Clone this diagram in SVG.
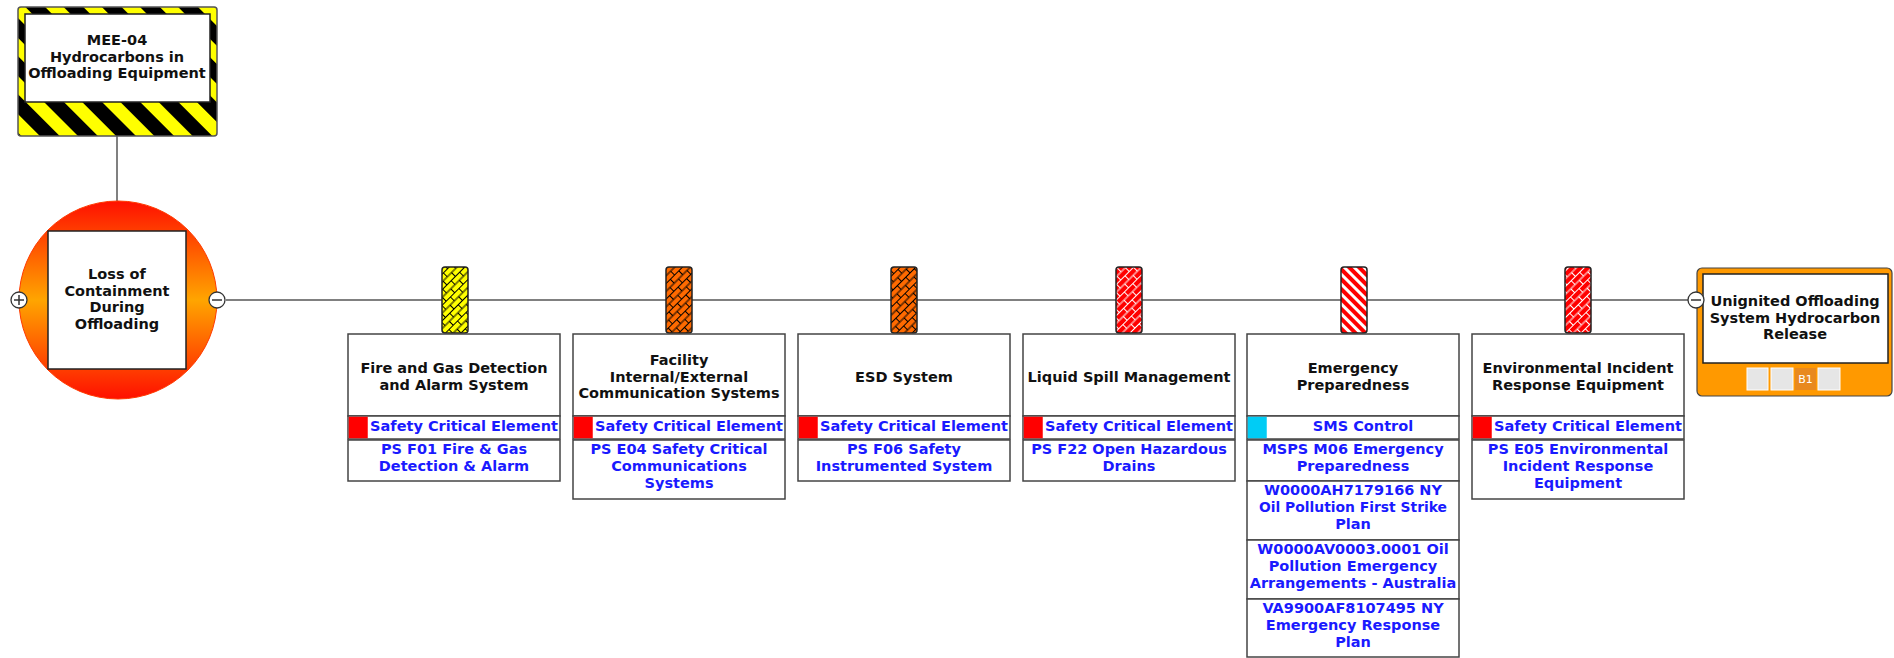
<svg xmlns="http://www.w3.org/2000/svg" width="1894" height="658" viewBox="0 0 1894 658">
  <style>
    .t { font-family: "DejaVu Sans", Verdana, sans-serif; font-weight: bold; font-size: 14.5px; fill: #111; text-anchor: middle; }
    .b { font-family: "DejaVu Sans", Verdana, sans-serif; font-weight: bold; font-size: 14.5px; fill: #1a1aff; text-anchor: middle; }
    .box { fill: #fff; stroke: #444; stroke-width: 1.5; }
    .pill { stroke: #222; stroke-width: 1.5; }
    .line { stroke: #808080; stroke-width: 2; fill: none; }
    .handle { fill: #fff; stroke: #333; stroke-width: 1.3; }
    .sign { stroke: #333; stroke-width: 1.5; }
    .slot { fill: #e6e6e6; stroke: #fff; stroke-width: 1; }
  </style>
  <defs>
    <!-- hazard tape -->
    <pattern id="hazard" width="27" height="27" patternUnits="userSpaceOnUse" patternTransform="rotate(45)">
      <rect width="27" height="27" fill="#ffff00"/>
      <rect width="27" height="14" fill="#000"/>
    </pattern>
    <!-- brick fills for barriers -->
    <pattern id="brickY" width="12" height="11" patternUnits="userSpaceOnUse" patternTransform="rotate(-45)">
      <rect width="12" height="11" fill="#ffff00"/>
      <path d="M0 0.5H12M0 6H12M0.5 0.5V6M6.5 6V11" stroke="#000" stroke-width="1" fill="none"/>
    </pattern>
    <pattern id="brickO" width="12" height="11" patternUnits="userSpaceOnUse" patternTransform="rotate(-45)">
      <rect width="12" height="11" fill="#ff6a00"/>
      <path d="M0 0.5H12M0 6H12M0.5 0.5V6M6.5 6V11" stroke="#000" stroke-width="1" fill="none"/>
    </pattern>
    <pattern id="brickR" width="12" height="11" patternUnits="userSpaceOnUse" patternTransform="rotate(-45)">
      <rect width="12" height="11" fill="#ff0000"/>
      <path d="M0 0.5H12M0 6H12M0.5 0.5V6M6.5 6V11" stroke="#fff" stroke-width="1" fill="none"/>
    </pattern>
    <pattern id="stripeR" width="7" height="7" patternUnits="userSpaceOnUse" patternTransform="rotate(45)">
      <rect width="7" height="7" fill="#ff0000"/>
      <rect width="7" height="3" fill="#fff"/>
    </pattern>
    <linearGradient id="topEvent" x1="0" y1="0" x2="0" y2="1">
      <stop offset="0" stop-color="#ff1000"/>
      <stop offset="0.3" stop-color="#ff6a00"/>
      <stop offset="0.5" stop-color="#ffa500"/>
      <stop offset="0.7" stop-color="#ff6a00"/>
      <stop offset="1" stop-color="#ff1000"/>
    </linearGradient>
  </defs>

  <!-- connectors -->
  <g id="connectors">
    <line class="line" x1="117" y1="136" x2="117" y2="201"/>
    <line class="line" x1="226" y1="300" x2="1688" y2="300"/>
  </g>

  <!-- hazard -->
  <g id="hazard-mee04">
    <rect x="18" y="7" width="199" height="129" rx="3" fill="url(#hazard)" stroke="#555" stroke-width="1.5"/>
    <rect x="25" y="14" width="185" height="88" fill="#fff" stroke="#222" stroke-width="1.5"/>
    <text class="t" x="117" y="45">MEE-04</text>
    <text class="t" x="117" y="62">Hydrocarbons in</text>
    <text class="t" x="117" y="78">Offloading Equipment</text>
  </g>

  <!-- top event -->
  <g id="top-event">
    <circle cx="118" cy="300" r="99" fill="url(#topEvent)" stroke="#ff3a00" stroke-width="1"/>
    <rect x="48" y="231" width="138" height="138" fill="#fff" stroke="#222" stroke-width="1.5"/>
    <text class="t" x="117" y="279">Loss of</text>
    <text class="t" x="117" y="296">Containment</text>
    <text class="t" x="117" y="312">During</text>
    <text class="t" x="117" y="329">Offloading</text>
    <circle class="handle" cx="19" cy="300" r="8"/>
    <path class="sign" d="M14 300H24M19 295V305"/>
    <circle class="handle" cx="217" cy="300" r="8"/>
    <path class="sign" d="M212 300H222"/>
  </g>

  <!-- barrier 1 -->
  <g id="barrier-fire-gas">
    <rect class="pill" x="442" y="267" width="26" height="66" rx="3" fill="url(#brickY)"/>
    <rect class="box" x="348" y="334" width="212" height="82"/>
    <text class="t" x="454" y="373">Fire and Gas Detection</text>
    <text class="t" x="454" y="390">and Alarm System</text>
    <rect class="box" x="348" y="416" width="212" height="23"/>
    <rect x="348.75" y="416.75" width="19" height="21.5" fill="#ff0000"/>
    <text class="b" x="464" y="431">Safety Critical Element</text>
    <rect class="box" x="348" y="440" width="212" height="41"/>
    <text class="b" x="454" y="454">PS F01 Fire &amp; Gas</text>
    <text class="b" x="454" y="471">Detection &amp; Alarm</text>
  </g>

  <!-- barrier 2 -->
  <g id="barrier-communications">
    <rect class="pill" x="666" y="267" width="26" height="66" rx="3" fill="url(#brickO)"/>
    <rect class="box" x="573" y="334" width="212" height="82"/>
    <text class="t" x="679" y="365">Facility</text>
    <text class="t" x="679" y="382">Internal/External</text>
    <text class="t" x="679" y="398">Communication Systems</text>
    <rect class="box" x="573" y="416" width="212" height="23"/>
    <rect x="573.75" y="416.75" width="19" height="21.5" fill="#ff0000"/>
    <text class="b" x="689" y="431">Safety Critical Element</text>
    <rect class="box" x="573" y="440" width="212" height="59"/>
    <text class="b" x="679" y="454">PS E04 Safety Critical</text>
    <text class="b" x="679" y="471">Communications</text>
    <text class="b" x="679" y="488">Systems</text>
  </g>

  <!-- barrier 3 -->
  <g id="barrier-esd">
    <rect class="pill" x="891" y="267" width="26" height="66" rx="3" fill="url(#brickO)"/>
    <rect class="box" x="798" y="334" width="212" height="82"/>
    <text class="t" x="904" y="382">ESD System</text>
    <rect class="box" x="798" y="416" width="212" height="23"/>
    <rect x="798.75" y="416.75" width="19" height="21.5" fill="#ff0000"/>
    <text class="b" x="914" y="431">Safety Critical Element</text>
    <rect class="box" x="798" y="440" width="212" height="41"/>
    <text class="b" x="904" y="454">PS F06 Safety</text>
    <text class="b" x="904" y="471">Instrumented System</text>
  </g>

  <!-- barrier 4 -->
  <g id="barrier-liquid-spill">
    <rect class="pill" x="1116" y="267" width="26" height="66" rx="3" fill="url(#brickR)"/>
    <rect class="box" x="1023" y="334" width="212" height="82"/>
    <text class="t" x="1129" y="382">Liquid Spill Management</text>
    <rect class="box" x="1023" y="416" width="212" height="23"/>
    <rect x="1023.75" y="416.75" width="19" height="21.5" fill="#ff0000"/>
    <text class="b" x="1139" y="431">Safety Critical Element</text>
    <rect class="box" x="1023" y="440" width="212" height="41"/>
    <text class="b" x="1129" y="454">PS F22 Open Hazardous</text>
    <text class="b" x="1129" y="471">Drains</text>
  </g>

  <!-- barrier 5 -->
  <g id="barrier-emergency">
    <rect class="pill" x="1341" y="267" width="26" height="66" rx="3" fill="url(#stripeR)"/>
    <rect class="box" x="1247" y="334" width="212" height="82"/>
    <text class="t" x="1353" y="373">Emergency</text>
    <text class="t" x="1353" y="390">Preparedness</text>
    <rect class="box" x="1247" y="416" width="212" height="23"/>
    <rect x="1247.75" y="416.75" width="19" height="21.5" fill="#00ccf5"/>
    <text class="b" x="1363" y="431">SMS Control</text>
    <rect class="box" x="1247" y="440" width="212" height="41"/>
    <text class="b" x="1353" y="454">MSPS M06 Emergency</text>
    <text class="b" x="1353" y="471">Preparedness</text>
    <rect class="box" x="1247" y="481" width="212" height="59"/>
    <text class="b" x="1353" y="495">W0000AH7179166 NY</text>
    <text class="b" x="1353" y="512" textLength="188" lengthAdjust="spacingAndGlyphs">Oil Pollution First Strike</text>
    <text class="b" x="1353" y="529">Plan</text>
    <rect class="box" x="1247" y="540" width="212" height="59"/>
    <text class="b" x="1353" y="554">W0000AV0003.0001 Oil</text>
    <text class="b" x="1353" y="571">Pollution Emergency</text>
    <text class="b" x="1353" y="588">Arrangements - Australia</text>
    <rect class="box" x="1247" y="599" width="212" height="58"/>
    <text class="b" x="1353" y="613">VA9900AF8107495 NY</text>
    <text class="b" x="1353" y="630">Emergency Response</text>
    <text class="b" x="1353" y="647">Plan</text>
  </g>

  <!-- barrier 6 -->
  <g id="barrier-environmental">
    <rect class="pill" x="1565" y="267" width="26" height="66" rx="3" fill="url(#brickR)"/>
    <rect class="box" x="1472" y="334" width="212" height="82"/>
    <text class="t" x="1578" y="373">Environmental Incident</text>
    <text class="t" x="1578" y="390">Response Equipment</text>
    <rect class="box" x="1472" y="416" width="212" height="23"/>
    <rect x="1472.75" y="416.75" width="19" height="21.5" fill="#ff0000"/>
    <text class="b" x="1588" y="431">Safety Critical Element</text>
    <rect class="box" x="1472" y="440" width="212" height="59"/>
    <text class="b" x="1578" y="454">PS E05 Environmental</text>
    <text class="b" x="1578" y="471">Incident Response</text>
    <text class="b" x="1578" y="488">Equipment</text>
  </g>

  <!-- consequence -->
  <g id="consequence">
    <rect x="1697" y="268" width="195" height="128" rx="5" fill="#ff9900" stroke="#444" stroke-width="1.2"/>
    <rect x="1703" y="274" width="185" height="89" fill="#fff" stroke="#222" stroke-width="1.5"/>
    <text class="t" x="1795" y="306">Unignited Offloading</text>
    <text class="t" x="1795" y="323">System Hydrocarbon</text>
    <text class="t" x="1795" y="339">Release</text>
    <rect class="slot" x="1747" y="368" width="21" height="22"/>
    <rect class="slot" x="1771" y="368" width="22" height="22"/>
    <rect x="1795" y="368" width="21" height="22" fill="#e8891f"/>
    <text x="1805.5" y="383" font-family="DejaVu Sans, sans-serif" font-size="11" fill="#fff" text-anchor="middle">B1</text>
    <rect class="slot" x="1818" y="368" width="22" height="22"/>
    <circle class="handle" cx="1696" cy="300" r="8"/>
    <path class="sign" d="M1691 300H1701"/>
  </g>
</svg>
